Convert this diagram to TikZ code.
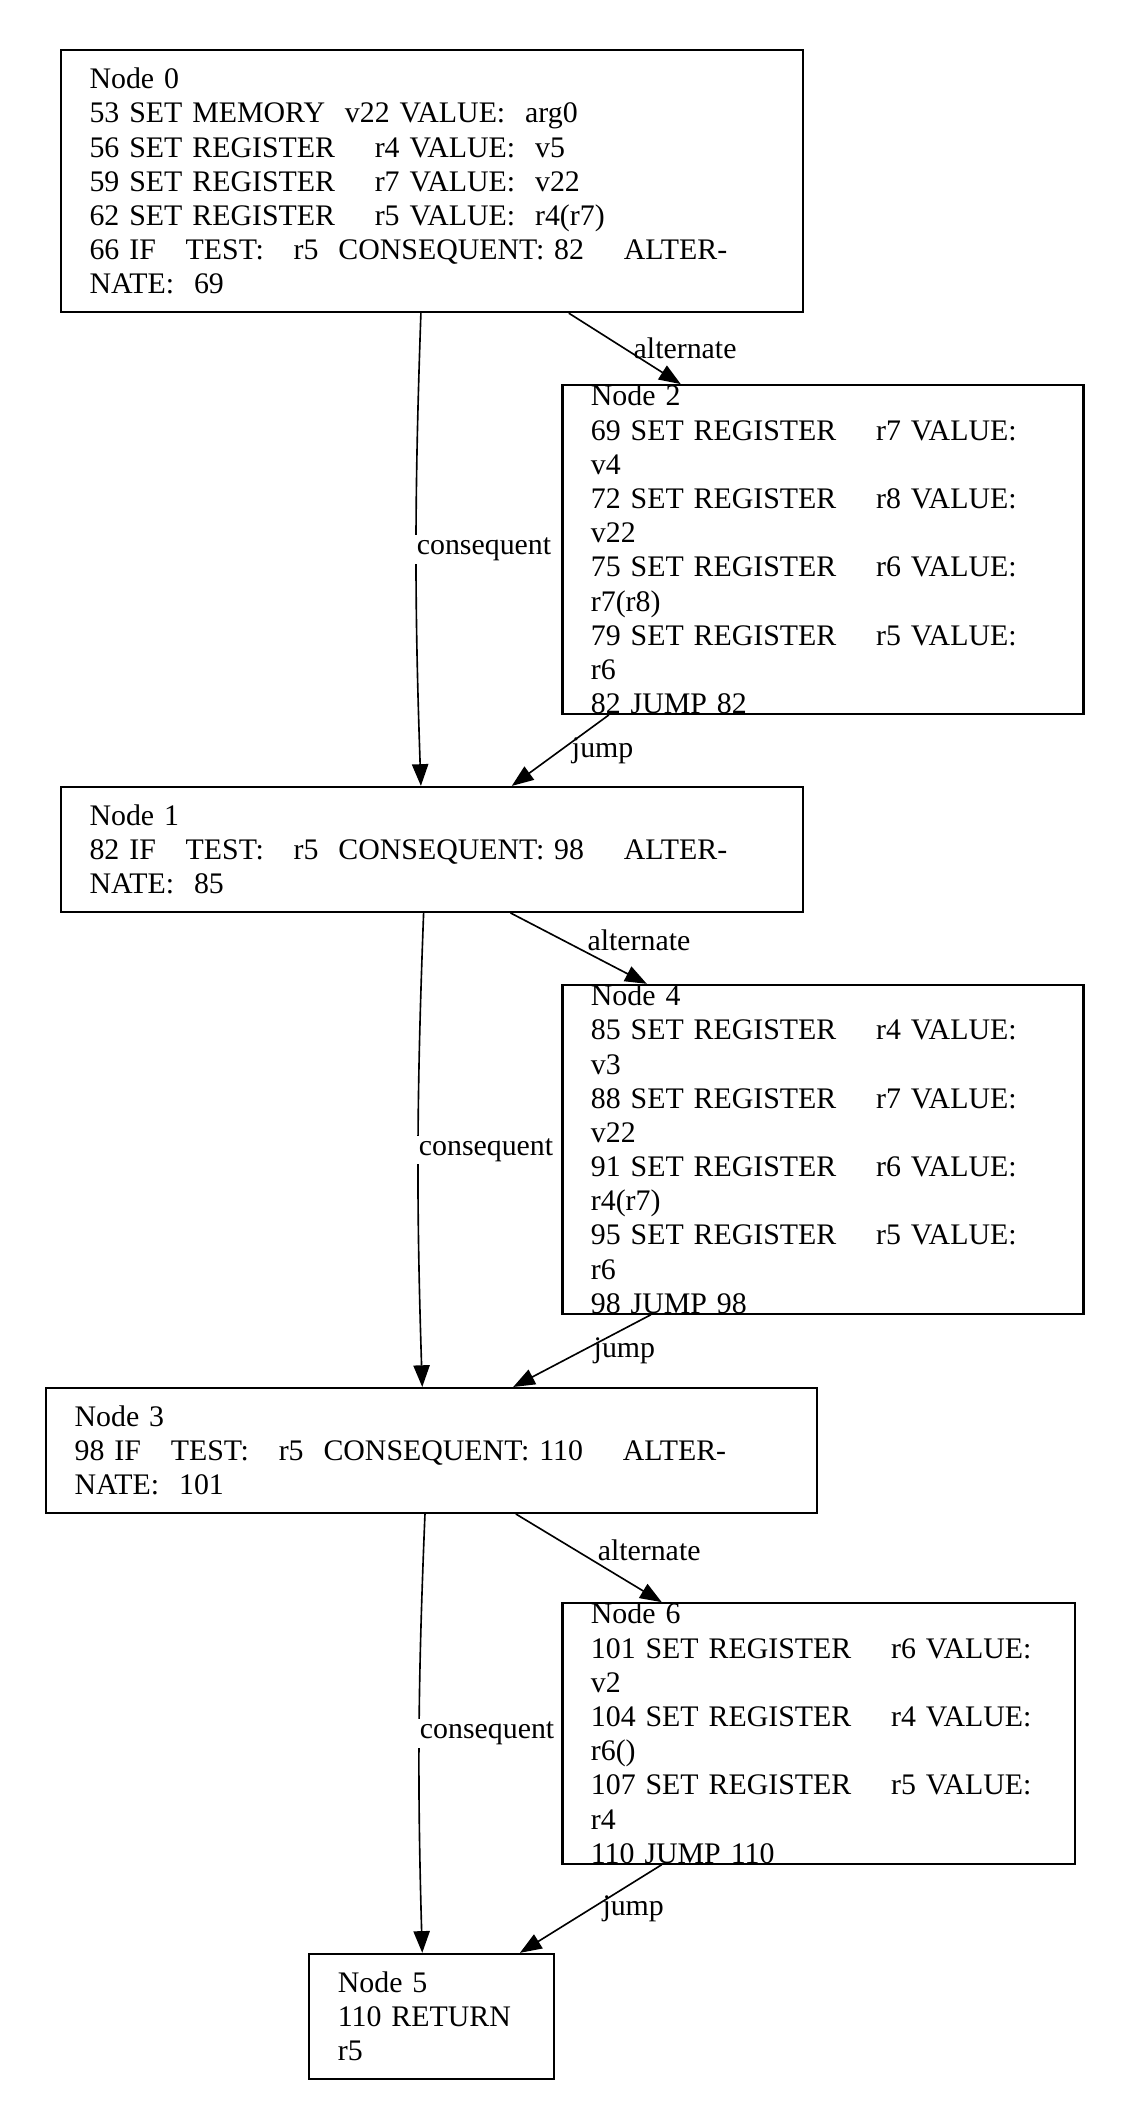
\documentclass[tikz,border=0pt]{standalone}
\usepackage{fontspec}
\setmainfont{Liberation Serif}
\usetikzlibrary{arrows.meta}
\tikzset{
    block/.style={draw, thick, rectangle, align=left, inner xsep=10.5pt, inner ysep=0pt,
        font=\fontsize{11}{12.6}\selectfont},
    flow/.style={-{Triangle[length=8pt,width=6pt]}, semithick},
    lbl/.style={font=\fontsize{11}{12}\selectfont, fill=white, inner sep=1pt}
}
\begin{document}
\begin{tikzpicture}[x=0.5pt, y=-0.5pt]
    \useasboundingbox (0,0) rectangle (830,1558);

    \node[block, text width=252.5pt, minimum height=96.5pt] (n0) at (318.5,133.5)
        {Node 0\\53 SET MEMORY\ \ v22 VALUE:\ \ arg0\\56 SET REGISTER\ \ \ \ r4 VALUE:\ \ v5\\59 SET REGISTER\ \ \ \ r7 VALUE:\ \ v22\\62 SET REGISTER\ \ \ \ r5 VALUE:\ \ r4(r7)\\66 IF\ \ \ TEST:\ \ \ r5\ \ CONSEQUENT: 82\ \ \ \ ALTERNATE:\ \ 69};
    \node[block, text width=171pt, minimum height=96pt] (n2) at (606.5,405)
        {Node 2\\69 SET REGISTER\ \ \ \ r7 VALUE:\ \ v4\\72 SET REGISTER\ \ \ \ r8 VALUE:\ \ v22\\75 SET REGISTER\ \ \ \ r6 VALUE:\ \ r7(r8)\\79 SET REGISTER\ \ \ \ r5 VALUE:\ \ r6\\82 JUMP 82};
    \node[block, text width=252.5pt, minimum height=46pt] (n1) at (318.5,626)
        {Node 1\\82 IF\ \ \ TEST:\ \ \ r5\ \ CONSEQUENT: 98\ \ \ \ ALTERNATE:\ \ 85};
    \node[block, text width=171pt, minimum height=96pt] (n4) at (606.5,847)
        {Node 4\\85 SET REGISTER\ \ \ \ r4 VALUE:\ \ v3\\88 SET REGISTER\ \ \ \ r7 VALUE:\ \ v22\\91 SET REGISTER\ \ \ \ r6 VALUE:\ \ r4(r7)\\95 SET REGISTER\ \ \ \ r5 VALUE:\ \ r6\\98 JUMP 98};
    \node[block, text width=263pt, minimum height=46pt] (n3) at (318,1069)
        {Node 3\\98 IF\ \ \ TEST:\ \ \ r5\ \ CONSEQUENT: 110\ \ \ \ ALTERNATE:\ \ 101};
    \node[block, text width=168pt, minimum height=83.5pt] (n6) at (603.5,1277.5)
        {Node 6\\101 SET REGISTER\ \ \ \ r6 VALUE:\ \ v2\\104 SET REGISTER\ \ \ \ r4 VALUE:\ \ r6()\\107 SET REGISTER\ \ \ \ r5 VALUE:\ \ r4\\110 JUMP 110};
    \node[block, text width=69pt, minimum height=46pt] (n5) at (318,1486)
        {Node 5\\110 RETURN r5};

    % edges
    \draw[flow] ([xshift=133pt]n0.south west) to[bend right=2] node[lbl, right=-1pt] {consequent} ([xshift=133pt]n1.north west);
    \draw[flow] ([xshift=187.5pt]n0.south west) -- node[lbl, right=2pt, fill=none] {alternate} ([xshift=44pt]n2.north west);
    \draw[flow] ([xshift=17.5pt]n2.south west) -- node[lbl, right=3pt, fill=none] {jump} ([xshift=166.5pt]n1.north west);
    \draw[flow] ([xshift=134pt]n1.south west) to[bend right=2] node[lbl, right=-1pt] {consequent} ([xshift=139pt]n3.north west);
    \draw[flow] ([xshift=166pt]n1.south west) -- node[lbl, right=2pt, yshift=3pt, fill=none] {alternate} ([xshift=31.5pt]n4.north west);
    \draw[flow] ([xshift=33pt]n4.south west) -- node[lbl, right=3pt, fill=none] {jump} ([xshift=172.5pt]n3.north west);
    \draw[flow] ([xshift=140pt]n3.south west) to[bend right=2] node[lbl, right=-1pt] {consequent} ([xshift=42pt]n5.north west);
    \draw[flow] ([xshift=173.5pt]n3.south west) -- node[lbl, right=2pt, yshift=3pt, fill=none] {alternate} ([xshift=37pt]n6.north west);
    \draw[flow] ([xshift=37pt]n6.south west) -- node[lbl, right=3pt, fill=none] {jump} ([xshift=78pt]n5.north west);
\end{tikzpicture}
\end{document}
